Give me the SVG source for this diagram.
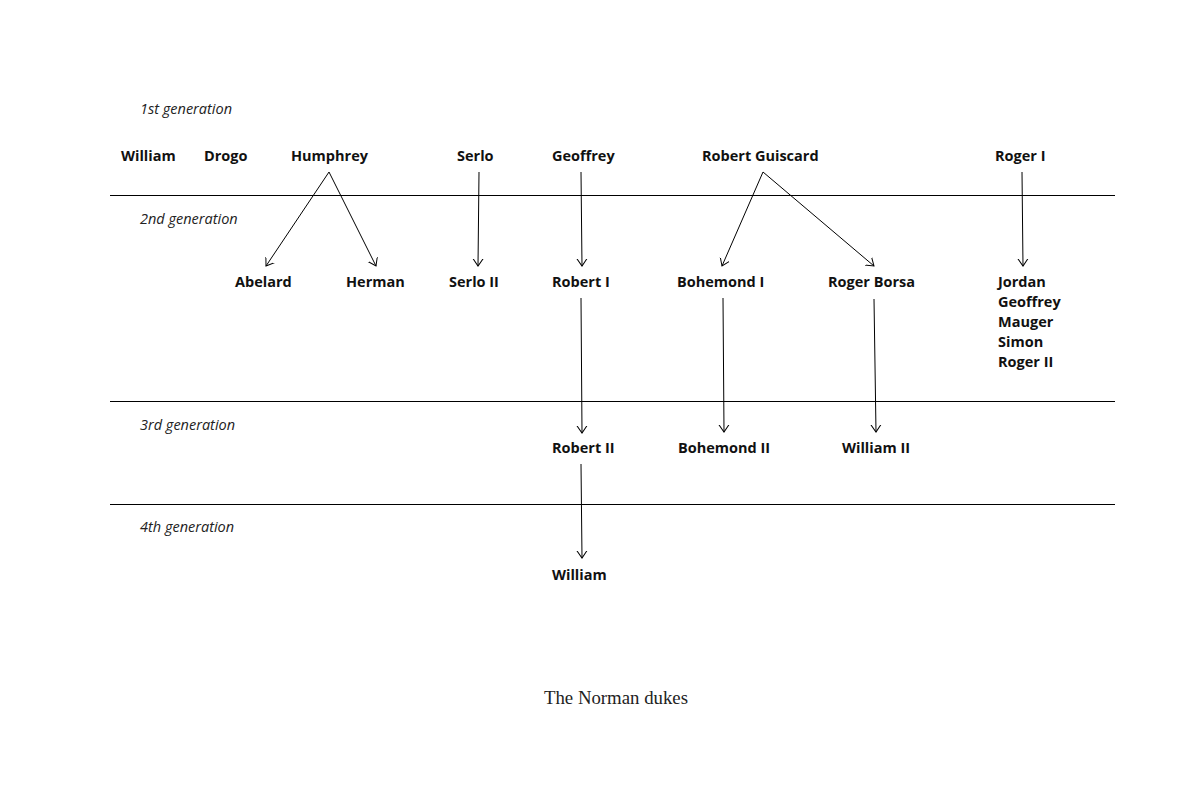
<svg xmlns="http://www.w3.org/2000/svg" width="1201" height="800" viewBox="0 0 1201 800">
<style>
.n{font-family:"Open Sans","Noto Sans",sans-serif;font-weight:700;font-size:14.5px;fill:#111}
.g{font-family:"Open Sans","Noto Sans",sans-serif;font-style:italic;font-size:14.5px;fill:#222}
.t{font-family:"Liberation Serif",serif;font-size:18.8px;fill:#222}
.rule{stroke:#000;stroke-width:1}
.c{stroke:#000;stroke-width:1;fill:none;marker-end:url(#a)}
</style>
<defs>
<marker id="a" markerUnits="userSpaceOnUse" markerWidth="14" markerHeight="14" refX="7" refY="7" orient="auto" viewBox="0 0 14 14">
<polyline points="-1,1.5 7,7 -1,12.5" fill="none" stroke="#000" stroke-width="1"/>
</marker>
</defs>
<rect width="1201" height="800" fill="#fff"/>
<g id="rules">
<line class="rule" x1="110" y1="195.5" x2="1115" y2="195.5"/>
<line class="rule" x1="110" y1="401.5" x2="1115" y2="401.5"/>
<line class="rule" x1="110" y1="504.5" x2="1115" y2="504.5"/>
</g>
<g id="labels">
<text class="g" x="140" y="114">1st generation</text>
<text class="g" x="140" y="224">2nd generation</text>
<text class="g" x="140" y="430">3rd generation</text>
<text class="g" x="140" y="532">4th generation</text>
</g>
<g id="connectors">
<line class="c" x1="329" y1="172" x2="266" y2="266"/>
<line class="c" x1="329" y1="172" x2="376" y2="266"/>
<line class="c" x1="479" y1="172" x2="478" y2="266"/>
<line class="c" x1="581" y1="172" x2="582" y2="266"/>
<line class="c" x1="763" y1="172" x2="722" y2="266"/>
<line class="c" x1="763" y1="172" x2="874" y2="266"/>
<line class="c" x1="1022" y1="172" x2="1023" y2="266"/>
<line class="c" x1="581" y1="298" x2="582" y2="433"/>
<line class="c" x1="723" y1="298" x2="724" y2="432"/>
<line class="c" x1="874" y1="299" x2="876" y2="432"/>
<line class="c" x1="581" y1="464" x2="582" y2="558"/>
</g>
<g id="william"><text class="n" x="121" y="161">William</text></g>
<g id="drogo"><text class="n" x="204" y="161">Drogo</text></g>
<g id="humphrey"><text class="n" x="291" y="161">Humphrey</text></g>
<g id="serlo"><text class="n" x="457" y="161">Serlo</text></g>
<g id="geoffrey"><text class="n" x="552" y="161">Geoffrey</text></g>
<g id="robert-guiscard"><text class="n" x="702" y="161">Robert Guiscard</text></g>
<g id="roger-i"><text class="n" x="995" y="161">Roger I</text></g>
<g id="abelard"><text class="n" x="235" y="287">Abelard</text></g>
<g id="herman"><text class="n" x="346" y="287">Herman</text></g>
<g id="serlo-ii"><text class="n" x="449" y="287">Serlo II</text></g>
<g id="robert-i"><text class="n" x="552" y="287">Robert I</text></g>
<g id="bohemond-i"><text class="n" x="677" y="287">Bohemond I</text></g>
<g id="roger-borsa"><text class="n" x="828" y="287">Roger Borsa</text></g>
<g id="roger-i-sons">
<text class="n" x="998" y="287">Jordan</text>
<text class="n" x="998" y="307">Geoffrey</text>
<text class="n" x="998" y="327">Mauger</text>
<text class="n" x="998" y="347">Simon</text>
<text class="n" x="998" y="367">Roger II</text>
</g>
<g id="robert-ii"><text class="n" x="552" y="453">Robert II</text></g>
<g id="bohemond-ii"><text class="n" x="678" y="453">Bohemond II</text></g>
<g id="william-ii"><text class="n" x="842" y="453">William II</text></g>
<g id="william-4"><text class="n" x="552" y="580">William</text></g>
<g id="title"><text class="t" x="544" y="704">The Norman dukes</text></g>
</svg>
